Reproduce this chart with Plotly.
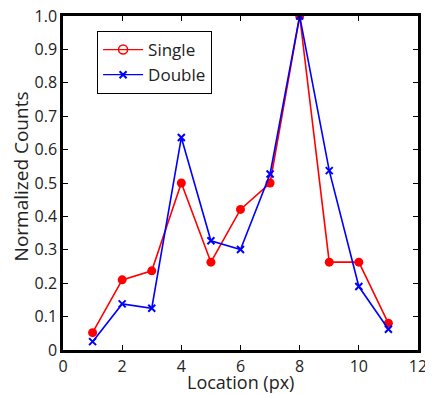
import plotly.graph_objects as go

location = [1, 2, 3, 4, 5, 6, 7, 8, 9, 10, 11]
single = [0.052, 0.21, 0.237, 0.50, 0.263, 0.421, 0.50, 1.0, 0.263, 0.263, 0.08]
double = [0.025, 0.138, 0.125, 0.636, 0.327, 0.301, 0.527, 1.0, 0.537, 0.19, 0.062]

x_ticks = [0, 2, 4, 6, 8, 10, 12]
x_tick_labels = ["0", "2", "4", "6", "8", "10", "12"]
y_ticks = [0, 0.1, 0.2, 0.3, 0.4, 0.5, 0.6, 0.7, 0.8, 0.9, 1.0]
y_tick_labels = ["0", "0.1", "0.2", "0.3", "0.4", "0.5", "0.6", "0.7", "0.8", "0.9", "1.0"]
x_title = "Location (px)"
y_title = "Normalized Counts"

RED = "#ff0000"
BLUE = "#0000ff"
FONT = "Open Sans"

fig = go.Figure()
fig.add_trace(go.Scatter(
    x=location, y=single, mode="lines+markers", name="Single", showlegend=False,
    line=dict(color=RED, width=1.6),
    marker=dict(symbol="circle", size=9, color=RED),
))
fig.add_trace(go.Scatter(
    x=location, y=double, mode="lines+markers", name="Double", showlegend=False,
    line=dict(color=BLUE, width=1.6),
    marker=dict(symbol="x-thin", size=7, color=BLUE, line=dict(color=BLUE, width=2)),
))
# legend entries
fig.add_trace(go.Scatter(
    x=[None], y=[None], mode="lines+markers", name="Single",
    line=dict(color=RED, width=1.3),
    marker=dict(symbol="circle-open", size=9, color=RED, line=dict(width=1.5)),
))
fig.add_trace(go.Scatter(
    x=[None], y=[None], mode="lines+markers", name="Double",
    line=dict(color=BLUE, width=1.3),
    marker=dict(symbol="x-thin", size=7, color=BLUE, line=dict(color=BLUE, width=2)),
))

axis_common = dict(
    showline=True, mirror="ticks", linecolor="black", linewidth=2.5,
    ticks="inside", ticklen=5, tickwidth=1, tickcolor="black",
    showgrid=False, zeroline=False, automargin=False,
    ticklabeloverflow="allow",
    tickfont=dict(family=FONT, size=16, color="#222"),
)

# the page body adds an 8px offset; compensate in size and margins
fig.update_layout(
    width=425, height=386,
    margin=dict(l=55, r=15, t=8, b=44),
    paper_bgcolor="white", plot_bgcolor="white",
    font=dict(family=FONT, color="#222"),
    xaxis=dict(range=[0, 12], tickvals=x_ticks, ticktext=x_tick_labels, **axis_common),
    yaxis=dict(range=[0, 1.0], tickvals=y_ticks, ticktext=y_tick_labels, **axis_common),
    legend=dict(x=0.096, y=0.955, xanchor="left", yanchor="top",
                bordercolor="black", borderwidth=1, bgcolor="white",
                font=dict(family=FONT, size=17, color="#222"),
                tracegroupgap=0, itemwidth=40),
    showlegend=True,
    annotations=[
        dict(text=x_title, xref="paper", yref="paper", x=0.5, y=-0.096,
             xanchor="center", yanchor="middle", showarrow=False,
             font=dict(family=FONT, size=18, color="#222")),
        dict(text=y_title, xref="paper", yref="paper", x=-0.118, y=0.52,
             xanchor="center", yanchor="middle", showarrow=False, textangle=-90,
             font=dict(family=FONT, size=19, color="#222")),
    ],
)

fig.write_html("out.html")
